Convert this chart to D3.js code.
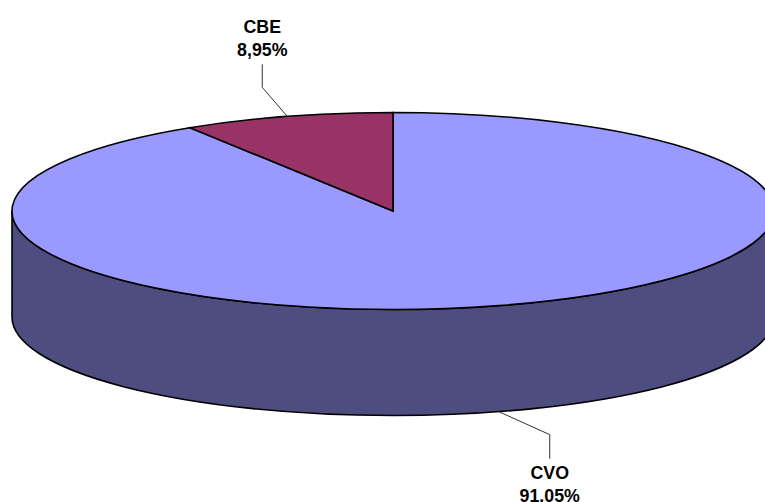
<!DOCTYPE html>
<html>
<head>
<meta charset="utf-8">
<script src="https://cdnjs.cloudflare.com/ajax/libs/d3/7.8.5/d3.min.js"></script>
<style>
  html, body { margin: 0; padding: 0; background: #fff; overflow: hidden; }
  svg { display: block; }
  text { font-family: "Liberation Sans", Arial, sans-serif; font-weight: bold; font-size: 17.8px; fill: #000; text-anchor: middle; }
</style>
</head>
<body>
<div id="chart"></div>
<script>
const categories = ['CVO', 'CBE'];
const values = [91.05, 8.95];
const valueLabels = ['91.05%', '8,95%'];
const colors = ['#9999ff', '#993366'];
const wallColor = '#4d4d80';

const width = 765, height = 502;
const cx = 393, cy = 211;
const rx = 381, ry = 98.5;
const depth = 106;

const svg = d3.select('#chart').append('svg')
  .attr('width', width)
  .attr('height', height);

// 饼图数据，从12点钟方向顺时针
const pie = d3.pie().sort(null).value(d => d)(values);
const arc = d3.arc().innerRadius(0).outerRadius(rx);

// 侧面：下半椭圆向下拉伸
svg.append('path')
  .attr('d', `M${cx - rx},${cy} A${rx},${ry} 0 0 0 ${cx + rx},${cy} L${cx + rx},${cy + depth} A${rx},${ry} 0 0 1 ${cx - rx},${cy + depth} Z`)
  .attr('fill', wallColor)
  .attr('stroke', '#000')
  .attr('stroke-width', 1.6);

// 顶面
svg.append('g')
  .attr('transform', `translate(${cx},${cy}) scale(1,${ry / rx})`)
  .selectAll('path')
  .data(pie)
  .enter()
  .append('path')
  .attr('d', arc)
  .attr('fill', (d, i) => colors[i])
  .attr('stroke', '#000')
  .attr('stroke-width', 1.6)
  .attr('vector-effect', 'non-scaling-stroke');

// 标签位置：相对引线起点的偏移
const labelInfo = [
  { elbow: [51, 23], end: [51, 47], first: 67 },
  { elbow: [-25, -29], end: [-25, -52], first: -83.5 }
];

const mid = d => (d.startAngle + d.endAngle) / 2;

pie.forEach((d, i) => {
  const info = labelInfo[i];
  const a = mid(d);
  const sx = cx + rx * Math.sin(a);
  let sy = cy - ry * Math.cos(a);
  if (Math.cos(a) < 0) sy += depth;

  svg.append('polyline')
    .attr('points', [[sx, sy], [sx + info.elbow[0], sy + info.elbow[1]], [sx + info.end[0], sy + info.end[1]]].join(' '))
    .attr('fill', 'none')
    .attr('stroke', '#333')
    .attr('stroke-width', 1);

  const t = svg.append('text')
    .attr('x', sx + info.end[0])
    .attr('y', sy + info.first);
  t.append('tspan').attr('x', sx + info.end[0]).text(categories[i]);
  t.append('tspan').attr('x', sx + info.end[0]).attr('dy', 23).text(valueLabels[i]);
});
</script>
</body>
</html>
